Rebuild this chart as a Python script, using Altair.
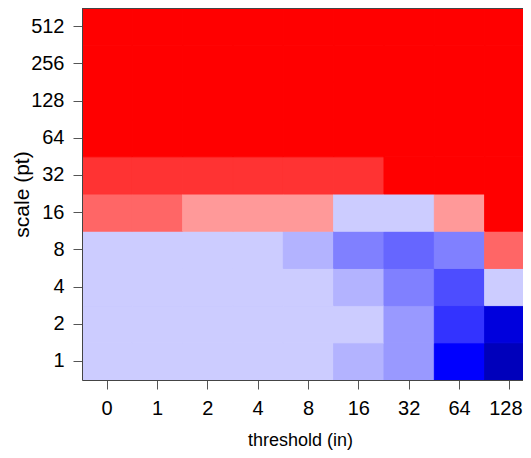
import altair as alt
import pandas as pd

# categories
thresholds = ["0", "1", "2", "4", "8", "16", "32", "64", "128"]
scales = ["1", "2", "4", "8", "16", "32", "64", "128", "256", "512"]

# colour levels (index into palette) per scale row, one value per threshold
level_rows = {
    "1":   [9, 9, 9, 9, 9, 8, 7, 2, 0],
    "2":   [9, 9, 9, 9, 9, 9, 7, 3, 1],
    "4":   [9, 9, 9, 9, 9, 8, 6, 4, 9],
    "8":   [9, 9, 9, 9, 8, 6, 5, 6, 11],
    "16":  [11, 11, 10, 10, 10, 9, 9, 10, 13],
    "32":  [12, 12, 12, 12, 12, 12, 13, 13, 13],
    "64":  [13, 13, 13, 13, 13, 13, 13, 13, 13],
    "128": [13, 13, 13, 13, 13, 13, 13, 13, 13],
    "256": [13, 13, 13, 13, 13, 13, 13, 13, 13],
    "512": [13, 13, 13, 13, 13, 13, 13, 13, 13],
}

palette = ["#0000BB", "#0000DD", "#0000FF", "#3333FF", "#4D4DFF", "#6666FF",
           "#8080FF", "#9999FF", "#B3B3FF", "#CCCCFF", "#FF9999", "#FF6666",
           "#FF3333", "#FF0000"]

rows = []
for s in scales:
    for t, lv in zip(thresholds, level_rows[s]):
        rows.append({"threshold": t, "scale": s, "level": lv})
df = pd.DataFrame(rows)

FONT = "Liberation Sans"
FRAME = "#444444"
color_scale = alt.Scale(domain=list(range(len(palette))), range=palette)
x_scale = alt.Scale(paddingInner=0, paddingOuter=0, range=[0, 453])
y_scale = alt.Scale(paddingInner=0, paddingOuter=0)

cells = alt.Chart(df).mark_rect(clip=True, strokeWidth=1).encode(
    x=alt.X("threshold:O", sort=thresholds, scale=x_scale,
            axis=alt.Axis(title="threshold (in)", labelAngle=0,
                          domain=True, domainColor=FRAME, domainWidth=1,
                          tickSize=9, tickColor="#555555", labelPadding=9,
                          labelOffset={"condition": {"test": "datum.label == '128'", "value": -4},
                                       "value": 0},
                          labelFontSize=20, labelFont=FONT, labelColor="#000000",
                          titleFontSize=18, titleFont=FONT, titleFontWeight="normal",
                          titleColor="#000000", titleX=218, titleY=65,
                          titleBaseline="alphabetic", titleAnchor="middle")),
    y=alt.Y("scale:O", sort=list(reversed(scales)), scale=y_scale,
            axis=alt.Axis(title="scale (pt)", domain=True, domainColor=FRAME,
                          domainWidth=1, tickSize=9,
                          tickColor="#555555", labelPadding=9,
                          labelFontSize=20, labelFont=FONT, labelColor="#000000",
                          titleFontSize=21, titleFont=FONT, titleFontWeight="normal",
                          titleColor="#000000", titleX=-54, titleY=186,
                          titleAngle=270, titleBaseline="alphabetic",
                          titleAlign="center")),
    color=alt.Color("level:O", scale=color_scale, legend=None),
    stroke=alt.Stroke("level:O", scale=color_scale, legend=None),
)

top_frame = alt.Chart(df).mark_rect(opacity=0).encode(
    x=alt.X("threshold:O", sort=thresholds, scale=x_scale,
            axis=alt.Axis(orient="top", title=None, labels=False, ticks=False,
                          domain=True, domainColor=FRAME, domainWidth=1)),
    y=alt.Y("scale:O", sort=list(reversed(scales)), scale=y_scale, axis=None),
)

chart = alt.layer(cells, top_frame).resolve_axis(
    x="independent", y="independent"
).properties(
    width=441, height=372,
    autosize=alt.AutoSizeParams(type="none"),
    padding={"left": 74, "top": 0, "right": 0, "bottom": 70},
).configure_view(
    stroke=None
).configure(background="white")

chart.save("out.html", embed_options={"renderer": "svg", "actions": False})
